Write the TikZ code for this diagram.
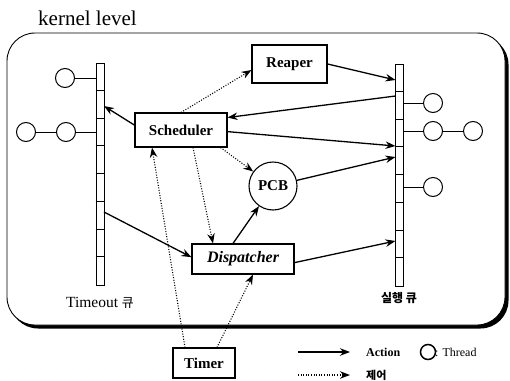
\documentclass[tikz,border=0pt]{standalone}
\usepackage{fontspec}
\setmainfont{Liberation Serif}
\newfontfamily\kr{Noto Sans CJK KR}
\usetikzlibrary{arrows.meta,calc}
\tikzset{
  box/.style={draw, line width=1.1pt, fill=white, inner sep=0pt, font=\fontsize{15}{15}\selectfont\bfseries},
  bar/.style={draw, line width=0.9pt, fill=white, minimum width=8pt, minimum height=222pt, inner sep=0pt},
  thread/.style={draw, circle, line width=1pt, minimum size=19pt, inner sep=0pt},
  act/.style={line width=1.3pt, -{Stealth[length=10pt,width=7.5pt]}},
  ctl/.style={line width=1.1pt, dash pattern=on 1pt off 1.6pt, -{Stealth[length=10pt,width=7.5pt]}},
  lbl/.style={inner sep=0pt}
}
\begin{document}
\begin{tikzpicture}[x=1pt,y=-1pt]
\useasboundingbox (0,0) rectangle (510,380);
% frame with heavy shadow
\fill[black, rounded corners=28pt] (10,36.5) rectangle (508.5,328.5);
\draw[line width=0.9pt, fill=white, rounded corners=28pt] (7,33) rectangle (505,325);
\node[lbl, anchor=west, font=\fontsize{21}{21}\selectfont] (kl) at (38,18) {kernel level};

% queues
\node[bar] (lq) at (100,174) {};
\node[bar] (rq) at (399.5,175) {};
\foreach \i in {1,...,7} {
  \draw[line width=0.8pt] ($(lq.north west)+(0,27.75*\i)$) -- ++(8,0);
  \draw[line width=0.8pt] ($(rq.north west)+(0,27.75*\i)$) -- ++(8,0);
}
\node[lbl, font=\fontsize{15.5}{15.5}\selectfont] (lql) at (100,303) {Timeout {\kr\fontsize{13}{13}\selectfont 큐}};
\node[lbl, font=\kr\fontsize{12}{12}\selectfont\bfseries] (rql) at (399,298) {실행 큐};

% threads
\node[thread] (t1) at (65,78) {};
\node[thread] (t2) at (26,132) {};
\node[thread] (t3) at (66,132) {};
\node[thread] (t4) at (433,103) {};
\node[thread] (t5) at (433,131) {};
\node[thread] (t6) at (473,131) {};
\node[thread] (t7) at (433,187) {};
\draw[line width=0.9pt] (t1) -- (t1 -| lq.west);
\draw[line width=0.9pt] (t2) -- (t3);
\draw[line width=0.9pt] (t3) -- (t3 -| lq.west);
\draw[line width=0.9pt] (t4) -- (t4 -| rq.east);
\draw[line width=0.9pt] (t5) -- (t5 -| rq.east);
\draw[line width=0.9pt] (t5) -- (t6);
\draw[line width=0.9pt] (t7) -- (t7 -| rq.east);

% boxes
\node[box, minimum width=75pt, minimum height=38pt] (reaper) at (289.5,64) {Reaper};
\node[box, minimum width=92pt, minimum height=34pt] (sched) at (181,130) {Scheduler};
\node[box, minimum width=102pt, minimum height=30pt, font=\fontsize{16}{16}\selectfont\bfseries\itshape] (disp) at (243,259) {Dispatcher};
\node[box, minimum width=62pt, minimum height=30pt] (timer) at (204,363) {Timer};
\node[box, circle, minimum size=48pt] (pcb) at (273,186) {PCB};

% queue attachment points
\coordinate (r1) at (395.5,80);
\coordinate (r2) at (395.5,96);
\coordinate (r3) at (395.5,146);
\coordinate (r4) at (395.5,157);
\coordinate (r8) at (395.5,241);
\coordinate (l5) at (104,106);
\coordinate (l6) at (104,212);

% actions
\draw[act] (reaper.east) -- (r1);
\draw[act] (r2) -- (sched.15);
\draw[act] (sched.-2) -- (r3);
\draw[act] (pcb) -- (r4);
\draw[act] (sched.174) -- (l5);
\draw[act] (l6) -- (disp.178);
\draw[act] ($(disp.north)+(-10,0)$) -- (pcb);
\draw[act] (disp.-4) -- (r8);

% control
\draw[ctl] (sched.north) -- (reaper.189);
\draw[ctl] ($(sched.south east)+(-7,0)$) -- (pcb);
\draw[ctl] ($(sched.south)+(12,0)$) -- ($(disp.north)+(-30,0)$);
\draw[ctl] ($(timer.north)+(-19,0)$) -- ($(sched.south)+(-29,0)$);
\draw[ctl] ($(timer.north)+(13,0)$) -- ($(disp.south)+(10,0)$);

% legend
\coordinate (la1) at (298,352);
\coordinate (la2) at (350,352);
\coordinate (lc1) at (298,375);
\coordinate (lc2) at (350,375);
\draw[act, line width=1.1pt] (la1) -- (la2);
\draw[ctl] (lc1) -- (lc2);
\node[lbl, anchor=west, font=\fontsize{12}{12}\selectfont\bfseries] (lact) at (366,352) {Action};
\node[thread, minimum size=15pt, line width=1.5pt] (lth) at (428,352) {};
\node[lbl, anchor=west, font=\fontsize{12}{12}\selectfont] (lthl) at (435,352) {: Thread};
\node[lbl, anchor=west, font=\kr\fontsize{11}{11}\selectfont\bfseries] (lctl) at (366,375) {제어};
\end{tikzpicture}
\end{document}
